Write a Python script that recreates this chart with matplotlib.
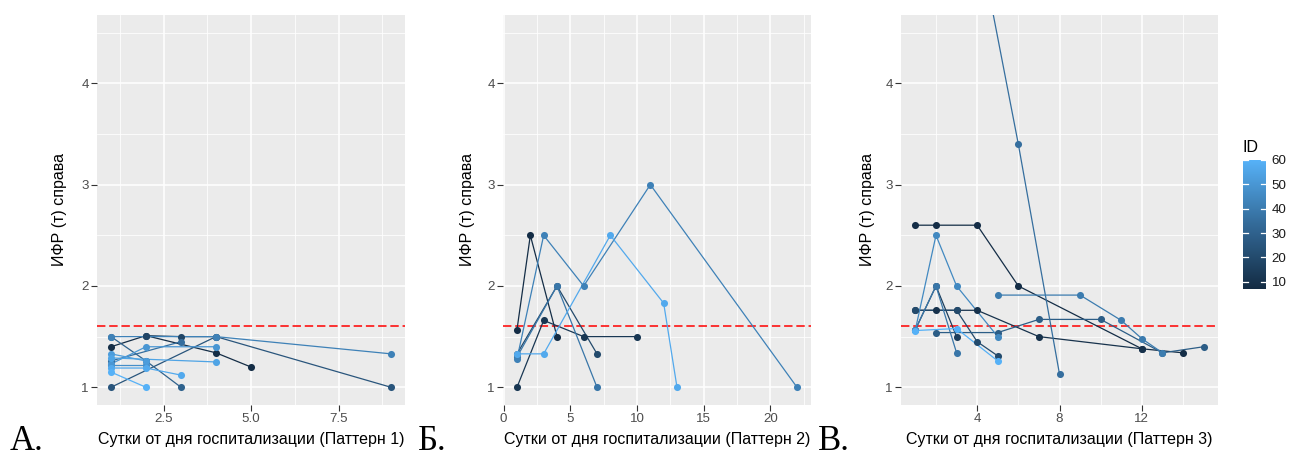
import numpy as np
import matplotlib
matplotlib.use("Agg")
import matplotlib.pyplot as plt
from matplotlib.colors import LinearSegmentedColormap, Normalize
from matplotlib.cm import ScalarMappable
from matplotlib.transforms import blended_transform_factory

plt.rcParams['font.family'] = ['Liberation Sans', 'DejaVu Sans']

# --- data ---
# Pattern 1
a_ids = [8, 18, 25, 30, 35, 42, 47, 50, 52, 55, 57, 60]
a_days = [[1, 2, 4, 5], [2, 3, 4], [1, 4, 9], [1, 2, 3], [1, 3], [1, 4, 9],
          [1, 2], [1, 2, 4], [1, 2], [1, 4], [1, 2, 3], [1, 2]]
a_ifr = [[1.40, 1.51, 1.34, 1.20], [1.51, 1.50, 1.50], [1.00, 1.50, 1.00],
         [1.50, 1.26, 1.00], [1.26, 1.45], [1.50, 1.50, 1.33],
         [1.22, 1.22], [1.23, 1.40, 1.40], [1.33, 1.26], [1.29, 1.25],
         [1.19, 1.19, 1.12], [1.15, 1.00]]

# Pattern 2
b_ids = [8, 12, 20, 38, 42, 57]
b_days = [[1, 2, 4], [1, 3, 6, 10], [1, 4, 7], [1, 4, 7],
          [1, 3, 6, 11, 22], [1, 3, 8, 12, 13]]
b_ifr = [[1.57, 2.50, 1.50], [1.00, 1.66, 1.50, 1.50], [1.33, 2.00, 1.33],
         [1.30, 2.00, 1.00], [1.28, 2.50, 2.00, 3.00, 1.00],
         [1.33, 1.33, 2.50, 1.83, 1.00]]

# Pattern 3
c_ids = [8, 10, 15, 20, 28, 35, 38, 40, 45, 60]
c_days = [[1, 2, 4, 6, 12, 14], [1, 2, 3, 4, 7, 12], [1, 2, 3], [1, 3, 4, 5],
          [2, 5, 7, 10, 13, 15], [4, 6, 8], [1, 2, 3], [5, 9, 11, 12, 13],
          [1, 2, 3, 5], [1, 3, 5]]
c_ifr = [[2.60, 2.60, 2.60, 2.00, 1.38, 1.34],
         [1.76, 1.76, 1.76, 1.76, 1.50, 1.38],
         [1.57, 2.00, 1.50], [1.76, 1.76, 1.45, 1.31],
         [1.54, 1.54, 1.67, 1.67, 1.34, 1.40], [5.50, 3.40, 1.13],
         [1.57, 2.00, 1.34], [1.91, 1.91, 1.66, 1.48, 1.34],
         [1.57, 2.50, 2.00, 1.50], [1.56, 1.58, 1.26]]

threshold = 1.6
id_ticks = [10, 20, 30, 40, 50, 60]
x_labels = ["Сутки от дня госпитализации (Паттерн 1)",
            "Сутки от дня госпитализации (Паттерн 2)",
            "Сутки от дня госпитализации (Паттерн 3)"]
y_label = "ИФР (т) справа"
letters = ["А.", "Б.", "В."]

# ggplot default continuous scale
cmap = LinearSegmentedColormap.from_list("gg", ["#132B43", "#336A98", "#56B1F7"])
norm = Normalize(vmin=7, vmax=60)

W, H = 1296, 458
fig = plt.figure(figsize=(W / 100, H / 100), dpi=100)


def px_axes(left, right, top, bottom):
    return fig.add_axes([left / W, 1 - bottom / H, (right - left) / W, (bottom - top) / H])


def style(ax, xlim, xmajor, xminor, xticklabels, ylab_x):
    ax.set_facecolor("#EBEBEB")
    for s in ax.spines.values():
        s.set_visible(False)
    ax.set_xlim(*xlim)
    ax.set_ylim(0.825, 4.675)
    ax.set_xticks(xmajor)
    ax.set_xticklabels(xticklabels)
    ax.set_xticks(xminor, minor=True)
    ax.set_yticks([1, 2, 3, 4])
    ax.set_yticks([1.5, 2.5, 3.5, 4.5], minor=True)
    ax.grid(which="major", color="white", lw=1.1)
    ax.grid(which="minor", color="white", lw=0.55)
    ax.set_axisbelow(True)
    ax.tick_params(which="major", length=4, width=0.8, color="#333333",
                   labelcolor="#4D4D4D", labelsize=9.6, pad=2)
    ax.tick_params(which="minor", length=0)
    ax.set_ylabel(y_label, fontsize=11.5)
    ax.yaxis.set_label_coords(ylab_x, 0.5)
    ax.axhline(threshold, color="red", lw=1.1, ls=(0, (5.5, 2.5)), zorder=1.5)


def draw(ax, ids, days, ifr):
    for i, d, v in zip(ids, days, ifr):
        c = cmap(norm(i))
        ax.plot(d, v, color=c, lw=0.9, zorder=2, clip_on=True)
        ax.scatter(d, v, color=c, s=26, zorder=3, linewidths=0)


axA = px_axes(97, 405, 15, 405)
style(axA, (0.6, 9.4), [2.5, 5.0, 7.5], [1.25, 3.75, 6.25, 8.75],
      ["2.5", "5.0", "7.5"], -0.096)
draw(axA, a_ids, a_days, a_ifr)

axB = px_axes(503, 811, 15, 405)
style(axB, (-0.05, 23.05), [0, 5, 10, 15, 20], [2.5, 7.5, 12.5, 17.5, 22.5],
      ["0", "5", "10", "15", "20"], -0.091)
draw(axB, b_ids, b_days, b_ifr)

axC = px_axes(901, 1218, 15, 405)
style(axC, (0.3, 15.7), [4, 8, 12], [2, 6, 10, 14], ["4", "8", "12"], -0.083)
draw(axC, c_ids, c_days, c_ifr)

for ax, lab in zip([axA, axB, axC], x_labels):
    ax.set_xlabel(lab, fontsize=11.5)
    ax.xaxis.set_label_coords(0.5, -0.07)

# panel letters
for xpx, let in zip([10, 418, 818], letters):
    fig.text(xpx / W, 1 - 450 / H, let, fontsize=25,
             family=["Liberation Serif", "DejaVu Serif"], va="baseline")

# colour bar
cax = px_axes(1243, 1266, 160, 289)
cb = fig.colorbar(ScalarMappable(norm=norm, cmap=cmap), cax=cax, ticks=id_ticks)
cb.outline.set_visible(False)
cax.tick_params(length=0, labelsize=9.6, labelcolor="#1A1A1A", pad=4)
tr = blended_transform_factory(cax.transAxes, cax.transData)
for t in id_ticks:
    cax.plot([0, 0.2], [t, t], color="white", lw=0.9, transform=tr)
    cax.plot([0.8, 1], [t, t], color="white", lw=0.9, transform=tr)
fig.text(1243 / W, 1 - 152 / H, "ID", fontsize=11.5, va="baseline")

fig.savefig("out.png", dpi=100)
